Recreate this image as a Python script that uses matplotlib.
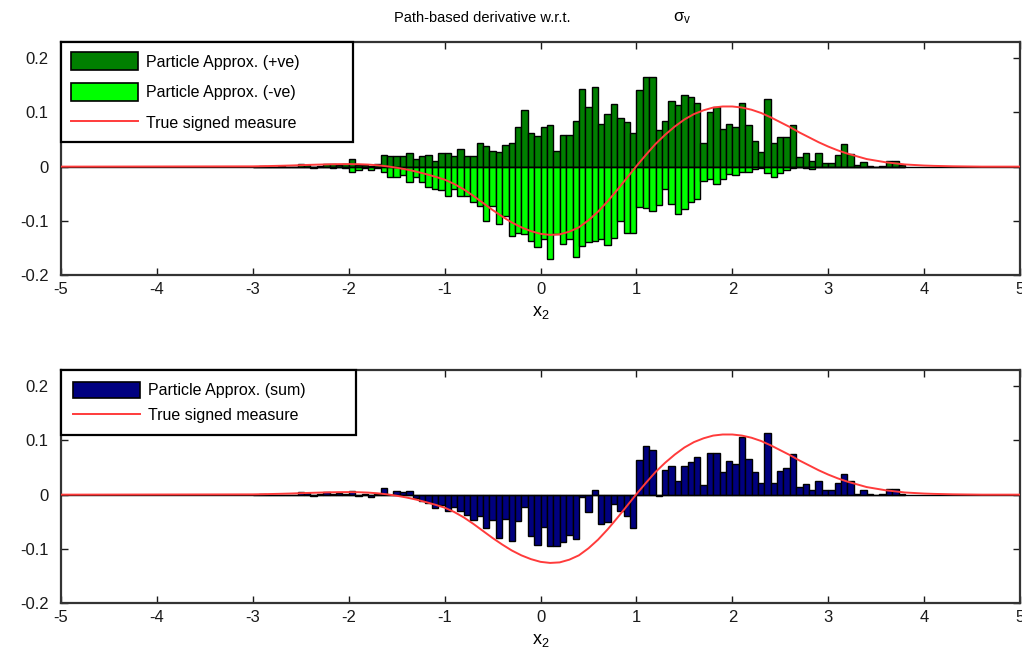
import numpy as np
import matplotlib
matplotlib.use("Agg")
import matplotlib.pyplot as plt
from matplotlib.patches import Patch
from matplotlib.lines import Line2D

# Histogram of particle weights over x2 (bins of width 1/15 starting at x2 = -3)
bin_width = 1.0 / 15.0
first_bin = -45

pos_mass = [
    0, 0.002, 0, 0, 0.002, 0, 0, 0.005, 0.003, 0,
    0.002, 0.004, 0.004, 0.003, 0.004, 0.015, 0.003, 0.003, 0.002, 0.004,
    0.022, 0.019, 0.019, 0.019, 0.025, 0.015, 0.019, 0.022, 0.011, 0.025,
    0.025, 0.019, 0.033, 0.019, 0.019, 0.044, 0.038, 0.028, 0.027, 0.040,
    0.044, 0.073, 0.104, 0.062, 0.056, 0.074, 0.077, 0.029, 0.059, 0.059,
    0.085, 0.144, 0.110, 0.147, 0.078, 0.097, 0.115, 0.089, 0.083, 0.062,
    0.141, 0.166, 0.165, 0.067, 0.085, 0.122, 0.113, 0.133, 0.128, 0.118,
    0.043, 0.100, 0.110, 0.070, 0.078, 0.074, 0.118, 0.076, 0.047, 0.027,
    0.125, 0.043, 0.055, 0.055, 0.077, 0.017, 0.025, 0.011, 0.026, 0.007,
    0.007, 0.022, 0.041, 0.023, 0.003, 0.008, 0.002, 0, 0.002, 0.011,
    0.011, 0.003,
]

neg_mass = [
    0, 0, 0, 0, 0, 0, 0, 0, 0, -0.002,
    0, 0, -0.002, 0, -0.003, -0.009, -0.006, -0.002, -0.006, -0.003,
    -0.010, -0.020, -0.020, -0.015, -0.029, -0.020, -0.029, -0.038, -0.041, -0.044,
    -0.054, -0.041, -0.054, -0.054, -0.066, -0.072, -0.100, -0.072, -0.106, -0.091,
    -0.128, -0.122, -0.125, -0.137, -0.148, -0.134, -0.171, -0.125, -0.143, -0.134,
    -0.167, -0.147, -0.140, -0.137, -0.134, -0.144, -0.131, -0.101, -0.122, -0.122,
    -0.075, -0.077, -0.081, -0.070, -0.042, -0.069, -0.088, -0.078, -0.066, -0.060,
    -0.026, -0.023, -0.032, -0.023, -0.014, -0.015, -0.010, -0.010, -0.004, -0.003,
    -0.011, -0.020, -0.011, -0.006, -0.003, 0, -0.002, -0.004, 0, 0,
    0, 0, 0, 0, 0, 0, 0, 0, 0, 0,
    0, 0,
]

sum_mass = [
    0, 0.002, 0, 0, 0, 0, 0, 0.005, 0.003, -0.002,
    0.002, 0.004, 0.002, 0.003, 0.001, 0.006, -0.003, 0.001, -0.004, 0.001,
    0.012, -0.001, 0.006, 0.004, 0.006, -0.006, -0.012, -0.016, -0.024, -0.020,
    -0.030, -0.023, -0.030, -0.038, -0.046, -0.040, -0.062, -0.046, -0.080, -0.045,
    -0.085, -0.048, -0.023, -0.076, -0.093, -0.060, -0.094, -0.094, -0.087, -0.075,
    -0.081, -0.004, -0.032, 0.008, -0.054, -0.050, -0.017, -0.030, -0.040, -0.061,
    0.064, 0.090, 0.083, -0.003, 0.045, 0.052, 0.026, 0.053, 0.061, 0.070,
    0.018, 0.076, 0.076, 0.041, 0.063, 0.057, 0.107, 0.065, 0.042, 0.022,
    0.113, 0.022, 0.043, 0.049, 0.075, 0.015, 0.019, 0.009, 0.026, 0.008,
    0.008, 0.022, 0.038, 0.026, 0.002, 0.008, 0.001, 0, 0.002, 0.011,
    0.011, 0.002,
]

# True signed measure sampled every 0.1 on [-3, 4.6], zero outside
curve_grid = np.round(np.arange(-3.0, 4.65, 0.1), 1)
curve_vals = [
    0.0005, 0.0008, 0.0012, 0.0016, 0.0021, 0.0027, 0.0033, 0.0038, 0.0043, 0.0046,
    0.0047, 0.0045, 0.0038, 0.0025, 0.0006, -0.0020, -0.0052, -0.0090, -0.0135, -0.0185,
    -0.0240, -0.0320, -0.0420, -0.0540, -0.0670, -0.0800, -0.0920, -0.1030, -0.1120, -0.1190,
    -0.1240, -0.1260, -0.1250, -0.1200, -0.1120, -0.0990, -0.0830, -0.0640, -0.0430, -0.0210,
    0.0010, 0.0220, 0.0420, 0.0590, 0.0740, 0.0870, 0.0970, 0.1040, 0.1090, 0.1110,
    0.1110, 0.1090, 0.1050, 0.0990, 0.0910, 0.0820, 0.0730, 0.0630, 0.0540, 0.0450,
    0.0370, 0.0300, 0.0240, 0.0190, 0.0140, 0.0110, 0.0080, 0.0060, 0.0040, 0.0030,
    0.0020, 0.0014, 0.0010, 0.0006, 0.0004, 0.0002, 0.0,
]

x_ticks = [-5, -4, -3, -2, -1, 0, 1, 2, 3, 4, 5]
y_ticks = [-0.2, -0.1, 0, 0.1, 0.2]
y_tick_labels = ["-0.2", "-0.1", "0", "0.1", "0.2"]

DARK_GREEN = "#007f00"
LIGHT_GREEN = "#00ff00"
NAVY = "#000080"
CURVE_RED = "#ff3b3b"

plt.rcParams["font.family"] = ["Liberation Sans", "DejaVu Sans"]
plt.rcParams["mathtext.fontset"] = "custom"
plt.rcParams["mathtext.rm"] = "Liberation Sans"
plt.rcParams["mathtext.it"] = "Liberation Sans"

centers = (np.arange(first_bin, first_bin + len(pos_mass)) + 0.5) * bin_width
cx = np.concatenate([[-5.0], curve_grid, [5.0]])
cy = np.concatenate([[0.0], curve_vals, [0.0]])

fig = plt.figure(figsize=(10.22, 6.48), dpi=100)
ax_top = fig.add_axes([0.0597, 0.5756, 0.9384, 0.3596])
ax_bot = fig.add_axes([0.0597, 0.0694, 0.9384, 0.3596])


def style_axes(ax):
    ax.set_xlim(-5, 5)
    ax.set_ylim(-0.2, 0.23)
    ax.set_xticks(x_ticks)
    ax.set_xticklabels([str(t) for t in x_ticks])
    ax.set_yticks(y_ticks)
    ax.set_yticklabels(y_tick_labels)
    ax.tick_params(direction="in", length=5, width=1, top=True, right=True,
                   labelsize=12, colors="#1a1a1a")
    ax.tick_params(axis="x", pad=5)
    ax.tick_params(axis="y", pad=9)
    for s in ax.spines.values():
        s.set_linewidth(1.6)
        s.set_color("#333333")
    ax.set_xlabel(r"$\mathregular{x_2}$", fontsize=13, labelpad=5)


def add_legend(ax, handles, labels, width_frac, handleheight, labelspacing, borderpad):
    leg = ax.legend(
        handles=handles, labels=labels,
        loc="upper left", bbox_to_anchor=(0, 1, width_frac, 0), mode="expand",
        borderaxespad=0, fontsize=11.5,
        handlelength=4.2, handleheight=handleheight, handletextpad=0.5,
        labelspacing=labelspacing, borderpad=borderpad,
        fancybox=False, framealpha=1, edgecolor="black",
    )
    leg.get_frame().set_linewidth(1.6)
    leg.set_zorder(10)
    return leg


# Upper panel: positive and negative particle contributions
ax_top.bar(centers, pos_mass, width=bin_width, color=DARK_GREEN,
           edgecolor="black", linewidth=1.0, zorder=2)
ax_top.bar(centers, neg_mass, width=bin_width, color=LIGHT_GREEN,
           edgecolor="black", linewidth=1.0, zorder=2)
ax_top.axhline(0, color="black", linewidth=1.0, zorder=3)
ax_top.plot(cx, cy, color=CURVE_RED, linewidth=1.4, zorder=4)
style_axes(ax_top)
add_legend(
    ax_top,
    [
        Patch(facecolor=DARK_GREEN, edgecolor="black", linewidth=1.2),
        Patch(facecolor=LIGHT_GREEN, edgecolor="black", linewidth=1.2),
        Line2D([], [], color=CURVE_RED, linewidth=1.4),
    ],
    ["Particle Approx. (+ve)", "Particle Approx. (-ve)", "True signed measure"],
    width_frac=0.304, handleheight=1.35, labelspacing=0.8, borderpad=0.65,
)

# Lower panel: summed particle approximation
ax_bot.bar(centers, sum_mass, width=bin_width, color=NAVY,
           edgecolor="black", linewidth=1.0, zorder=2)
ax_bot.axhline(0, color="black", linewidth=1.0, zorder=3)
ax_bot.plot(cx, cy, color=CURVE_RED, linewidth=1.4, zorder=4)
style_axes(ax_bot)
add_legend(
    ax_bot,
    [
        Patch(facecolor=NAVY, edgecolor="black", linewidth=1.2),
        Line2D([], [], color=CURVE_RED, linewidth=1.4),
    ],
    ["Particle Approx. (sum)", "True signed measure"],
    width_frac=0.308, handleheight=1.15, labelspacing=0.55, borderpad=0.75,
)

# Title: text and the symbol are spaced apart
fig.text(482 / 1022, 1 - 18 / 648, "Path-based derivative w.r.t.", ha="center",
         va="center", fontsize=10.5)
fig.text(682 / 1022, 1 - 18 / 648, r"$\mathregular{\sigma_v}$", ha="center",
         va="center", fontsize=12)

fig.savefig("out.png", dpi=100)
